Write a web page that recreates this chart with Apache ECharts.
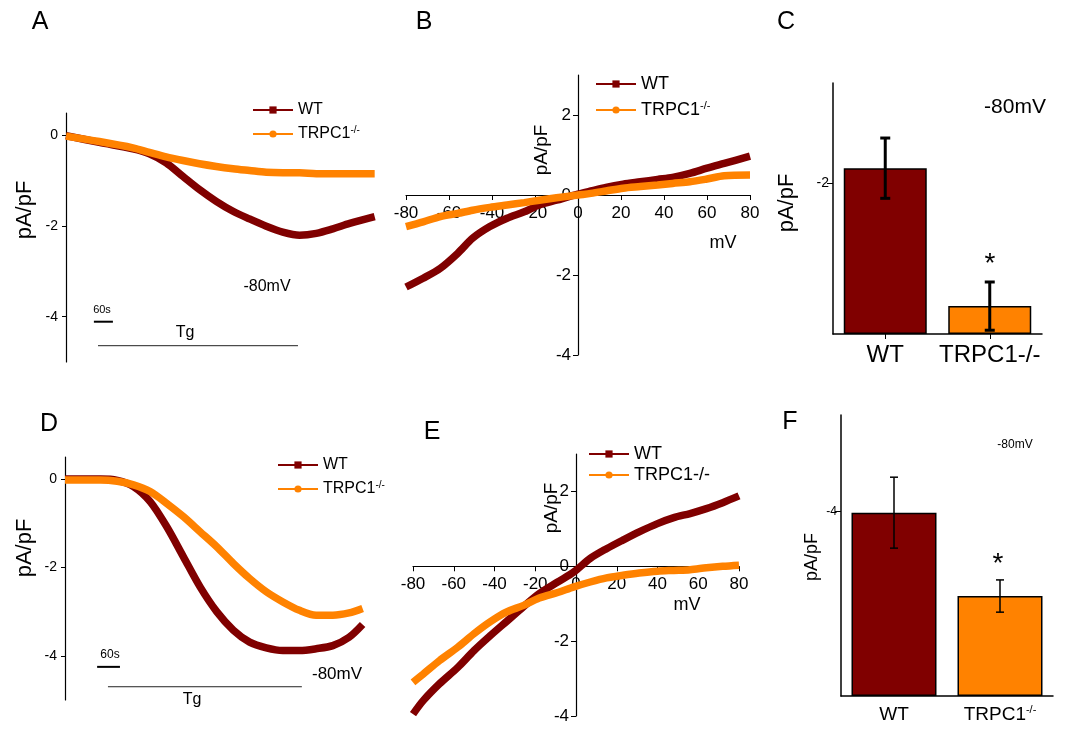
<!DOCTYPE html>
<html style="height: 100%">
<head>
<meta charset="utf-8">
<title>TRPC1 currents</title>
</head>
<body style="height: 100%; margin: 0; background: #fff">
<div id="container" style="width: 1070px; height: 729px"></div>
<script src="https://cdn.jsdelivr.net/npm/echarts@6/dist/echarts.min.js"></script>
<script>
var WT_COLOR = '#800000';
var KO_COLOR = '#ff8200';
var FONT = '"Liberation Sans", Arial, sans-serif';
var KO = 'TRPC1-/-';

// A: current at -80mV over time (s)
var timeA = [0, 105, 211, 263, 316, 369, 421, 474, 527, 579, 632, 684, 737, 790, 842, 895, 974];
var wtA = [0, -0.15, -0.29, -0.40, -0.60, -0.90, -1.19, -1.45, -1.67, -1.84, -2.0, -2.13, -2.20, -2.16, -2.06, -1.94, -1.79];
var koA = [-0.01, -0.13, -0.27, -0.37, -0.47, -0.55, -0.62, -0.68, -0.73, -0.77, -0.81, -0.82, -0.82, -0.84, -0.84, -0.84, -0.84];
var scaleA = [88, 148], scaleAy = -4.11;
var tgA = [101, 732], tgAy = -4.64;

// B: I-V curve (mV)
var mvB = [-80, -72, -64, -56, -49, -41, -33, -25, -18, -10, 0, 6, 13, 21, 29, 37, 44, 52, 60, 68, 80];
var wtB = [-2.3, -2.08, -1.83, -1.46, -1.08, -0.79, -0.58, -0.42, -0.25, -0.13, 0.02, 0.10, 0.19, 0.27, 0.33, 0.39, 0.44, 0.54, 0.67, 0.79, 0.97];
var koB = [-0.79, -0.67, -0.54, -0.46, -0.38, -0.31, -0.25, -0.19, -0.13, -0.07, 0, 0.04, 0.10, 0.17, 0.21, 0.25, 0.29, 0.33, 0.40, 0.48, 0.50];

// C: mean current at -80mV
var groups = ['WT', KO];
var meanC = [-2.2, -0.37];
var errC = [0.4, 0.32];

// D: current at -80mV over time (s)
var timeD = [0, 49, 92, 135, 177, 220, 263, 306, 349, 392, 435, 477, 520, 563, 606, 649, 692, 734, 769];
var wtD = [0, 0, 0, -0.03, -0.17, -0.51, -1.08, -1.76, -2.44, -3.0, -3.42, -3.69, -3.82, -3.88, -3.88, -3.84, -3.77, -3.58, -3.29];
var koD = [-0.02, -0.02, -0.02, -0.05, -0.13, -0.28, -0.55, -0.85, -1.19, -1.53, -1.91, -2.25, -2.55, -2.78, -2.97, -3.08, -3.08, -3.03, -2.93];
var scaleD = [83, 142], scaleDy = -4.25;
var tgD = [111, 612], tgDy = -4.7;

// E: I-V curve (mV)
var mvE = [-80, -75, -67, -58, -50, -42, -34, -26, -18, -9, -1, 7, 15, 23, 31, 40, 48, 56, 64, 72, 80];
var wtE = [-3.95, -3.59, -3.14, -2.70, -2.25, -1.85, -1.47, -1.09, -0.73, -0.42, -0.15, 0.21, 0.47, 0.70, 0.92, 1.14, 1.30, 1.41, 1.54, 1.70, 1.88];
var koE = [-3.10, -2.88, -2.52, -2.16, -1.80, -1.48, -1.22, -1.05, -0.85, -0.70, -0.55, -0.42, -0.31, -0.24, -0.18, -0.13, -0.11, -0.09, -0.04, 0, 0.03];

// F: mean current at -80mV
var meanF = [-3.98, -2.17];
var errF = [0.77, 0.35];

var ivTicks = [-4, -2, 0, 2];
var ivMin = -4, ivMax = 3;

var grids = [
    { left: 66, top: 113, width: 309, height: 249 },
    { left: 406, top: 75, width: 344, height: 280 },
    { left: 833, top: 83, width: 209, height: 251 },
    { left: 65, top: 457, width: 298, height: 243 },
    { left: 413, top: 454, width: 326, height: 262 },
    { left: 841, top: 415, width: 212, height: 281 }
];

var dom = document.getElementById('container');
var myChart = echarts.init(dom, null, { renderer: 'canvas' });

function pairs(xs, ys) {
    return xs.map(function (x, i) { return [x, ys[i]]; });
}

function curve(name, xi, xs, ys, color) {
    return {
        type: 'line', name: name, xAxisIndex: xi, yAxisIndex: xi,
        data: pairs(xs, ys), smooth: 0.3, showSymbol: false,
        symbol: name === 'WT' ? 'rect' : 'circle',
        itemStyle: { color: color },
        lineStyle: { color: color, width: 7.5 },
        silent: true
    };
}

function hline(xi, xs, y, width, color) {
    return {
        type: 'line', xAxisIndex: xi, yAxisIndex: xi, silent: true,
        data: [[xs[0], y], [xs[1], y]], symbol: 'none',
        lineStyle: { color: color, width: width }
    };
}

function bars(xi, values, width) {
    return {
        type: 'bar', xAxisIndex: xi, yAxisIndex: xi, barWidth: width, silent: true,
        data: values.map(function (v, i) {
            return { value: v, itemStyle: { color: i === 0 ? WT_COLOR : KO_COLOR } };
        }),
        itemStyle: { borderColor: '#000', borderWidth: 1.5 }
    };
}

function errors(xi, values, errs, width, cap) {
    return {
        type: 'custom', xAxisIndex: xi, yAxisIndex: xi, silent: true, z: 5,
        data: values.map(function (v, i) { return [i, v - errs[i], v + errs[i]]; }),
        renderItem: function (params, api) {
            var a = api.coord([api.value(0), api.value(1)]);
            var b = api.coord([api.value(0), api.value(2)]);
            var st = { stroke: '#000', lineWidth: width };
            return {
                type: 'group', children: [
                    { type: 'line', shape: { x1: a[0], y1: a[1], x2: b[0], y2: b[1] }, style: st },
                    { type: 'line', shape: { x1: a[0] - cap, y1: a[1], x2: a[0] + cap, y2: a[1] }, style: st },
                    { type: 'line', shape: { x1: b[0] - cap, y1: b[1], x2: b[0] + cap, y2: b[1] }, style: st }
                ]
            };
        }
    };
}

function timeY(idx) {
    return {
        gridIndex: idx, type: 'value', min: -5, max: 0.5,
        splitLine: { show: false },
        axisLine: { show: true, onZero: false, lineStyle: { color: '#000', width: 1.2 } },
        axisTick: { show: true, length: 4, customValues: [0, -2, -4], lineStyle: { color: '#000' } },
        axisLabel: { customValues: [0, -2, -4], color: '#000', fontSize: 14, fontFamily: FONT, margin: 8 }
    };
}

// I-V axes cross at the origin: shift them into the grid by offset
function ivX(idx, margin) {
    var g = grids[idx];
    return {
        gridIndex: idx, type: 'value', min: -80, max: 80, interval: 20,
        position: 'bottom', offset: -g.height * (0 - ivMin) / (ivMax - ivMin),
        splitLine: { show: false },
        axisLine: { show: true, onZero: false, lineStyle: { color: '#000', width: 1.2 } },
        axisTick: { show: true, length: 5, lineStyle: { color: '#000' } },
        axisLabel: { color: '#000', fontSize: 17, fontFamily: FONT, margin: margin }
    };
}

function ivY(idx) {
    var g = grids[idx];
    return {
        gridIndex: idx, type: 'value', min: ivMin, max: ivMax,
        position: 'left', offset: -g.width / 2,
        splitLine: { show: false },
        axisLine: { show: true, onZero: false, lineStyle: { color: '#000', width: 1.2 } },
        axisTick: { show: true, length: 5, customValues: ivTicks, lineStyle: { color: '#000' } },
        axisLabel: { customValues: ivTicks, color: '#000', fontSize: 17, fontFamily: FONT, margin: 7 }
    };
}

function barY(idx, min, tick, size) {
    return {
        gridIndex: idx, type: 'value', inverse: true, min: min, max: 0,
        splitLine: { show: false },
        axisLine: { show: true, lineStyle: { color: '#000', width: 1.5 } },
        axisTick: { show: true, length: 6, customValues: [tick], lineStyle: { color: '#000' } },
        axisLabel: { customValues: [tick], color: '#000', fontSize: size, fontFamily: FONT, margin: 4 }
    };
}

function legend(left, top, size, sup, gap) {
    return {
        left: left, top: top, orient: 'vertical', itemWidth: 40, itemHeight: 9, itemGap: gap,
        data: ['WT', KO], selectedMode: false,
        lineStyle: { width: 2 },
        formatter: function (name) {
            if (name === KO && sup) return '{b|TRPC1}{s|-/-}';
            return '{b|' + name + '}';
        },
        textStyle: {
            color: '#000', fontFamily: FONT, fontSize: size,
            rich: {
                b: { fontSize: size, fontFamily: FONT, color: '#000', lineHeight: size + 2 },
                s: { fontSize: Math.round(size * 0.6), fontFamily: FONT, color: '#000', verticalAlign: 'top', lineHeight: size + 2 }
            }
        }
    };
}

function txt(x, y, text, size, rot) {
    return {
        type: 'text', x: x, y: y, rotation: rot ? Math.PI / 2 : 0, silent: true,
        style: { text: text, fill: '#000', font: size + 'px ' + FONT, align: 'center', verticalAlign: 'middle' }
    };
}

var option = {
    animation: false,
    backgroundColor: '#fff',
    grid: grids,
    xAxis: [
        { gridIndex: 0, type: 'value', min: 0, max: 975, show: false },
        ivX(1, 10),
        {
            gridIndex: 2, type: 'category', data: groups,
            axisLine: { show: true, lineStyle: { color: '#000', width: 1.5 } },
            axisTick: { show: true, alignWithLabel: true, length: 5, lineStyle: { color: '#000' } },
            axisLabel: { interval: 0, color: '#000', fontSize: 24, fontFamily: FONT, margin: 9 }
        },
        { gridIndex: 3, type: 'value', min: 0, max: 770, show: false },
        ivX(4, 10),
        {
            gridIndex: 5, type: 'category', data: groups,
            axisLine: { show: true, lineStyle: { color: '#000', width: 1.5 } },
            axisTick: { show: false },
            axisLabel: {
                interval: 0, color: '#000', fontSize: 19, fontFamily: FONT, margin: 8,
                formatter: function (v) { return v === KO ? '{b|TRPC1}{s|-/-}' : '{b|' + v + '}'; },
                rich: {
                    b: { fontSize: 19, fontFamily: FONT, color: '#000', lineHeight: 21 },
                    s: { fontSize: 11, fontFamily: FONT, color: '#000', verticalAlign: 'top', lineHeight: 21 }
                }
            }
        }
    ],
    yAxis: [
        timeY(0),
        ivY(1),
        barY(2, -3.33, -2, 14),
        timeY(3),
        ivY(4),
        barY(5, -6.1, -4, 12)
    ],
    legend: [
        legend(247, 97, 16, true, 7),
        legend(590, 70, 18, true, 7),
        legend(272, 452, 16, true, 7),
        legend(583, 440, 18, false, 3)
    ],
    series: [
        curve('WT', 0, timeA, wtA, WT_COLOR),
        curve(KO, 0, timeA, koA, KO_COLOR),
        hline(0, scaleA, scaleAy, 2, '#000'),
        hline(0, tgA, tgAy, 1, '#222'),
        curve('WT', 1, mvB, wtB, WT_COLOR),
        curve(KO, 1, mvB, koB, KO_COLOR),
        bars(2, meanC, 83),
        errors(2, meanC, errC, 3, 5),
        curve('WT', 3, timeD, wtD, WT_COLOR),
        curve(KO, 3, timeD, koD, KO_COLOR),
        hline(3, scaleD, scaleDy, 2, '#000'),
        hline(3, tgD, tgDy, 1, '#222'),
        curve('WT', 4, mvE, wtE, WT_COLOR),
        curve(KO, 4, mvE, koE, KO_COLOR),
        bars(5, meanF, 85),
        errors(5, meanF, errF, 1.5, 4)
    ],
    graphic: [
        txt(40, 22, 'A', 25), txt(424, 22, 'B', 25), txt(786, 22, 'C', 25),
        txt(49, 424, 'D', 25), txt(432, 432, 'E', 25), txt(790, 422, 'F', 25),
        txt(25, 210, 'pA/pF', 22, true), txt(542, 150, 'pA/pF', 19, true),
        txt(787, 203, 'pA/pF', 22, true), txt(25, 548, 'pA/pF', 22, true),
        txt(552, 508, 'pA/pF', 19, true), txt(812, 557, 'pA/pF', 18, true),
        txt(723, 243, 'mV', 18), txt(687, 605, 'mV', 18),
        txt(267, 287, '-80mV', 16), txt(1015, 107, '-80mV', 21),
        txt(337, 674, '-80mV', 17), txt(1015, 445, '-80mV', 12),
        txt(990, 264, '*', 28), txt(998, 564, '*', 28),
        txt(102, 310, '60s', 11), txt(110, 655, '60s', 12),
        txt(185, 333, 'Tg', 16), txt(192, 700, 'Tg', 16)
    ]
};

myChart.setOption(option);
</script>
</body>
</html>
